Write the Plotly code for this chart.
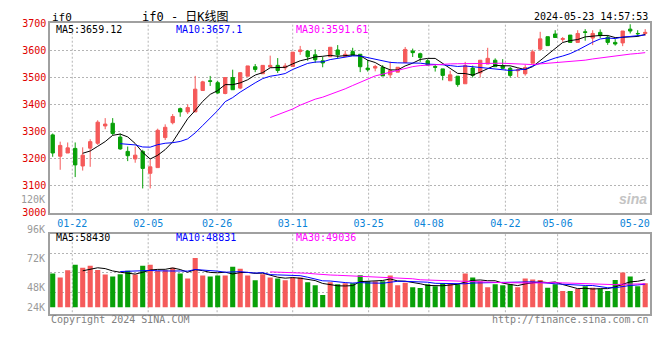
import plotly.graph_objects as go
import pandas as pd

W, H = 660, 360

# ---------------- data ----------------
opens = [3288, 3209, 3221, 3238, 3173, 3239, 3257, 3321, 3331, 3280,
         3227, 3199, 3227, 3146, 3167, 3278, 3333, 3385, 3373, 3373,
         3452, 3488, 3481, 3441, 3500, 3461, 3505, 3540, 3514, 3539,
         3545, 3536, 3541, 3596, 3598, 3584, 3562, 3577, 3602, 3578,
         3596, 3586, 3535, 3535, 3538, 3510, 3520, 3556, 3598, 3588,
         3562, 3541, 3532, 3488, 3505, 3477, 3535, 3517, 3550, 3564,
         3544, 3534, 3525, 3514, 3553, 3605, 3651, 3661, 3641, 3657,
         3630, 3669, 3646, 3667, 3649, 3630, 3628, 3679, 3663, 3663]
highs = [3293, 3263, 3260, 3260, 3242, 3272, 3342, 3350, 3350, 3293,
         3245, 3245, 3233, 3197, 3311, 3327, 3365, 3389, 3401, 3506,
         3488, 3506, 3488, 3500, 3529, 3520, 3543, 3550, 3545, 3581,
         3572, 3553, 3594, 3617, 3602, 3604, 3577, 3612, 3620, 3600,
         3610, 3586, 3565, 3547, 3546, 3559, 3538, 3613, 3607, 3592,
         3568, 3550, 3532, 3525, 3505, 3558, 3544, 3564, 3610, 3571,
         3568, 3540, 3534, 3547, 3603, 3669, 3651, 3675, 3650, 3657,
         3675, 3679, 3675, 3678, 3657, 3642, 3672, 3697, 3675, 3679]
lows = [3207, 3159, 3221, 3132, 3156, 3170, 3251, 3309, 3287, 3233,
        3191, 3185, 3090, 3090, 3167, 3269, 3327, 3355, 3365, 3373,
        3452, 3469, 3440, 3438, 3455, 3457, 3505, 3520, 3514, 3539,
        3517, 3526, 3541, 3584, 3562, 3554, 3538, 3577, 3572, 3578,
        3582, 3520, 3522, 3523, 3506, 3498, 3520, 3556, 3576, 3558,
        3544, 3522, 3490, 3488, 3466, 3477, 3500, 3500, 3550, 3540,
        3532, 3500, 3501, 3507, 3553, 3599, 3618, 3648, 3632, 3628,
        3630, 3636, 3620, 3646, 3621, 3618, 3616, 3663, 3651, 3655]
closes = [3221, 3249, 3240, 3177, 3213, 3263, 3335, 3328, 3293, 3236,
          3211, 3213, 3164, 3170, 3305, 3316, 3356, 3373, 3389, 3457,
          3484, 3486, 3443, 3500, 3455, 3518, 3543, 3530, 3545, 3545,
          3526, 3543, 3594, 3602, 3577, 3566, 3554, 3612, 3584, 3586,
          3582, 3540, 3529, 3541, 3506, 3526, 3538, 3604, 3592, 3574,
          3546, 3538, 3508, 3510, 3474, 3544, 3508, 3564, 3571, 3540,
          3534, 3508, 3528, 3537, 3595, 3643, 3618, 3648, 3644, 3630,
          3663, 3667, 3663, 3655, 3630, 3624, 3672, 3672, 3662, 3667]
volumes = [71300, 63100, 78100, 89800, 83600, 87700, 78700, 69300, 65100, 69900,
           77500, 69300, 87700, 89800, 76700, 78100, 83600, 71300, 61000, 104200,
           67200, 65100, 67200, 67200, 85700, 81600, 67200, 56900, 69900, 63100,
           61000, 56900, 63100, 63100, 52800, 46600, 26100, 52800, 48700, 50800,
           50800, 67800, 54900, 54900, 54900, 67200, 46600, 52000, 42500, 40500,
           48700, 44600, 50800, 50800, 48700, 71300, 63100, 54900, 42500, 48700,
           46600, 48700, 42500, 61000, 59000, 57500, 41100, 48700, 34300, 34300,
           38400, 44600, 41100, 38400, 34300, 57500, 73400, 65100, 44600, 50800]

date_tick_pos = [2.61, 12.73, 21.92, 32.0, 42.12, 50.15, 60.36, 67.32, 77.6]
date_tick_text = ["01-22", "02-05", "02-26", "03-11", "03-25", "04-08", "04-22", "05-06", "05-20"]
price_ticks = [3000, 3100, 3200, 3300, 3400, 3500, 3600, 3700]
vol_tick_text = ["120K", "96K", "72K", "48K", "24K"]
price_ma_labels = ["MA5:3659.12", "MA10:3657.1", "MA30:3591.61"]
vol_ma_labels = ["MA5:58430", "MA10:48831", "MA30:49036"]
ma_windows = [5, 10, 30]

# ---------------- styling ----------------
RED = "#f55a5a"
GREEN = "#08a008"
MA_COLORS = ["#000000", "#0000ff", "#ff00ff"]
MONO = "DejaVu Sans Mono, Noto Sans CJK SC, monospace"
GRID = "#b4b4b4"
BORDER = "#a0a0a0"

idx = list(range(len(closes)))
vol_colors = [RED if c >= o else GREEN for o, c in zip(opens, closes)]

def px_x(x):
    return x / W

def px_y(y):
    return 1 - y / H

main_dom = [px_y(213.3), px_y(18)]
vol_dom = [px_y(318), px_y(234.7)]
x_dom = [px_x(50), px_x(650)]
x_range = [-0.36, 79.64]

fig = go.Figure()

fig.add_trace(go.Candlestick(
    x=idx, open=opens, high=highs, low=lows, close=closes,
    increasing=dict(line=dict(color=RED, width=1), fillcolor=RED),
    decreasing=dict(line=dict(color=GREEN, width=1), fillcolor=GREEN),
    whiskerwidth=0, hoverinfo="skip", showlegend=False,
    xaxis="x", yaxis="y"))

cs = pd.Series(closes)
vs = pd.Series(volumes)
for n, col in zip(ma_windows, MA_COLORS):
    fig.add_trace(go.Scatter(x=idx, y=cs.rolling(n).mean(), mode="lines",
                             line=dict(color=col, width=1), hoverinfo="skip",
                             showlegend=False, xaxis="x", yaxis="y"))

fig.add_trace(go.Bar(x=idx, y=volumes, marker=dict(color=vol_colors, line=dict(width=0)),
                     width=0.68, hoverinfo="skip", showlegend=False,
                     xaxis="x2", yaxis="y2"))
for n, col in zip(ma_windows, MA_COLORS):
    fig.add_trace(go.Scatter(x=idx, y=vs.rolling(n).mean(), mode="lines",
                             line=dict(color=col, width=1), hoverinfo="skip",
                             showlegend=False, xaxis="x2", yaxis="y2"))

# vertical dotted grid lines (05-20 has none)
for p in date_tick_pos[:-1]:
    for xr, dom in (("x", main_dom), ("x2", vol_dom)):
        fig.add_shape(type="line", xref=xr, yref="paper", x0=p, x1=p,
                      y0=dom[0] - 2 / H, y1=dom[1],
                      line=dict(color=GRID, width=1, dash="2px,2px"), layer="below")

axis_common = dict(showline=True, mirror=True, linecolor=BORDER, linewidth=1.5,
                   zeroline=False, ticks="", fixedrange=True)

fig.update_layout(
    width=W, height=H, margin=dict(l=0, r=0, t=0, b=0),
    paper_bgcolor="white", plot_bgcolor="white",
    boxgap=0.36, bargap=0.3,
    xaxis=dict(domain=x_dom, range=x_range, anchor="y", tickmode="array",
               tickvals=date_tick_pos, ticktext=date_tick_text, showgrid=False,
               tickfont=dict(family=MONO, size=10, color="#0a84d8"),
               rangeslider=dict(visible=False), **axis_common),
    yaxis=dict(domain=main_dom, range=[3000, 3700], anchor="x", tickmode="array",
               tickvals=price_ticks, showgrid=True, gridcolor=GRID, griddash="2px,2px",
               gridwidth=1, tickfont=dict(family=MONO, size=10, color="#e00000"),
               **axis_common),
    xaxis2=dict(domain=x_dom, range=x_range, anchor="y2", showticklabels=False,
                showgrid=False, **axis_common),
    yaxis2=dict(domain=vol_dom, range=[-15000, 156200], anchor="x2", tickmode="array",
                tickvals=[31600, 72700, 113800], showticklabels=False, showgrid=True,
                gridcolor=GRID, griddash="2px,2px", gridwidth=1, **axis_common),
)

ann = []
def text(x, y, s, color="#000", size=10, anchor="left", family=MONO, **kw):
    ann.append(dict(x=px_x(x), y=px_y(y), xref="paper", yref="paper", text=s,
                    showarrow=False, xanchor=anchor, yanchor="middle",
                    font=dict(family=family, size=size, color=color), **kw))

text(50, 12, "if0", size=11)
text(140, 11, "if0 - 日K线图", size=12)
text(650, 11, "2024-05-23 14:57:53", size=10, anchor="right")
for lab, x, col in zip(price_ma_labels, [54, 174, 294], MA_COLORS):
    text(x, 24, lab, color=col)
for lab, x, col in zip(vol_ma_labels, [54, 174, 294], MA_COLORS):
    text(x, 238.5, lab, color=col)
for lab, y in zip(vol_tick_text, [200, 231, 260.7, 290.7, 310.7]):
    text(47, y, lab, color="#9a9a9a", anchor="right")
text(49, 323.5, "Copyright 2024 SINA.COM", color="#808080")
text(651, 323.5, "http://finance.sina.com.cn", color="#808080", anchor="right")
text(649, 199, "<i><b>sina</b></i>", color="#c4c4c4", size=14, anchor="right",
     family="Liberation Sans, Arial")

fig.update_layout(annotations=ann)
fig.write_html("out.html", config={"displayModeBar": False},
               post_script="document.body.style.margin='0';"
                           "document.body.style.overflow='hidden';")
